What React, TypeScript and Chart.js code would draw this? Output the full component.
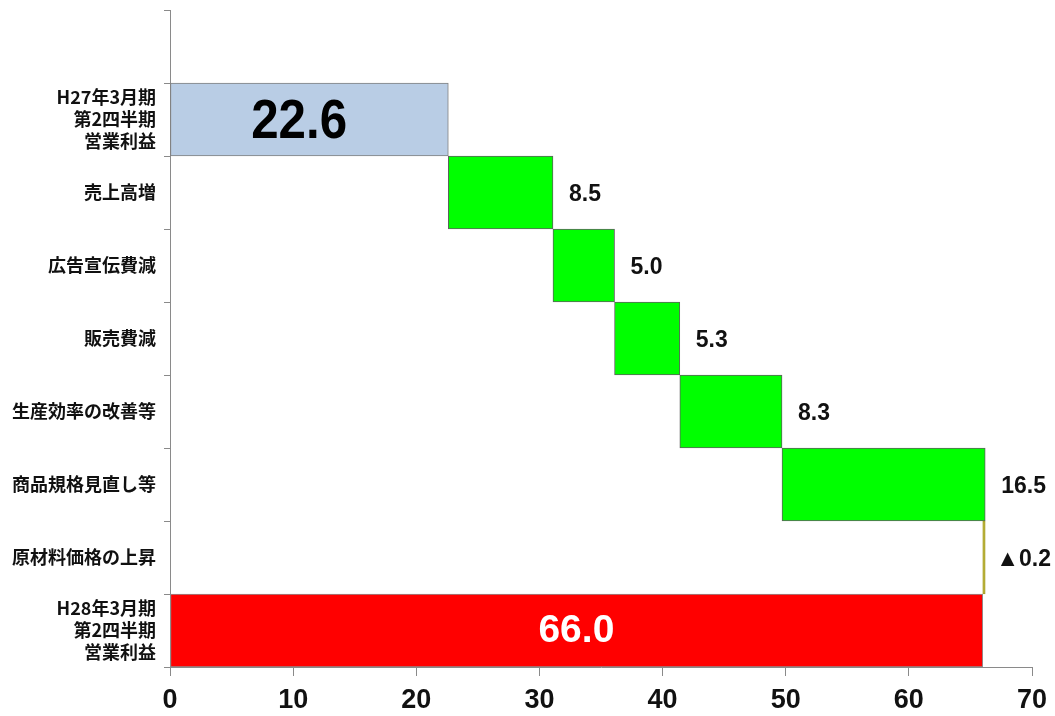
import { useEffect, useRef } from 'react';
import { Chart, registerables } from 'chart.js';

Chart.register(...registerables);

// ---- data ----
const categories: string[][] = [
  [''],
  ['H27年3月期', '第2四半期', '営業利益'],
  ['売上高増'],
  ['広告宣伝費減'],
  ['販売費減'],
  ['生産効率の改善等'],
  ['商品規格見直し等'],
  ['原材料価格の上昇'],
  ['H28年3月期', '第2四半期', '営業利益'],
];
const startTotal = 22.6;
const changes = [8.5, 5.0, 5.3, 8.3, 16.5, -0.2];
const endTotal = 66.0;
const xMin = 0;
const xMax = 70;
const xStep = 10;

// ---- derived ----
const ranges: ([number, number] | null)[] = [null, [0, startTotal]];
let run = startTotal;
for (const c of changes) {
  ranges.push([run, run + c]);
  run = +(run + c).toFixed(1);
}
ranges.push([0, endTotal]);

const values: (number | null)[] = [null, startTotal, ...changes, endTotal];
const valueText = values.map((v) =>
  v === null ? '' : v < 0 ? '▲' + Math.abs(v).toFixed(1) : v.toFixed(1)
);

const fills = ['rgba(0,0,0,0)', '#b9cde5', '#00ff00', '#00ff00', '#00ff00', '#00ff00', '#00ff00', '#b8b030', '#ff0000'];
const borders = ['rgba(0,0,0,0)', '#7f7f7f', '#5f5f5f', '#5f5f5f', '#5f5f5f', '#5f5f5f', '#5f5f5f', '#a8a028', '#8f8f8f'];

const labelPlugin = {
  id: 'valueLabels',
  afterDatasetsDraw(chart: any) {
    const ctx = chart.ctx;
    const xs = chart.scales.x;
    const ys = chart.scales.y;
    ctx.save();
    values.forEach((v, i) => {
      if (v === null) return;
      const r = ranges[i]!;
      const yc = ys.getPixelForValue(i);
      if (i === 1) {
        const xc = (xs.getPixelForValue(r[0]) + xs.getPixelForValue(r[1])) / 2 - 10;
        ctx.save();
        ctx.translate(xc, yc + 3);
        ctx.scale(0.88, 1);
        ctx.font = 'bold 56px "Liberation Sans", Arial, sans-serif';
        ctx.fillStyle = '#000';
        ctx.textAlign = 'center';
        ctx.textBaseline = 'middle';
        ctx.fillText(valueText[i], 0, 0);
        ctx.restore();
      } else if (i === values.length - 1) {
        const xc = (xs.getPixelForValue(r[0]) + xs.getPixelForValue(r[1])) / 2;
        ctx.font = 'bold 39px "Liberation Sans", Arial, sans-serif';
        ctx.fillStyle = '#fff';
        ctx.textAlign = 'center';
        ctx.textBaseline = 'middle';
        ctx.fillText(valueText[i], xc, yc + 1);
      } else {
        const xe = xs.getPixelForValue(Math.max(r[0], r[1]));
        ctx.font = 'bold 23px "Liberation Sans", Arial, sans-serif';
        ctx.fillStyle = '#111';
        ctx.textAlign = 'left';
        ctx.textBaseline = 'middle';
        ctx.fillText(valueText[i], xe + (v < 0 ? 11 : 16), yc + 2);
      }
    });
    ctx.restore();
  },
};

export default function App() {
  const ref = useRef<HTMLCanvasElement | null>(null);
  useEffect(() => {
    document.body.style.margin = '0';
    const canvas = ref.current!;
    const chart = new Chart(canvas, {
      type: 'bar',
      data: {
        labels: categories,
        datasets: [
          {
            data: ranges as any,
            backgroundColor: fills,
            borderColor: borders,
            borderWidth: 1,
            borderSkipped: false,
            barPercentage: 1,
            categoryPercentage: 1,
          },
        ],
      },
      options: {
        indexAxis: 'y',
        responsive: false,
        animation: false,
        layout: { padding: { top: 10, right: 23, left: 0, bottom: 0 } },
        plugins: { legend: { display: false }, tooltip: { enabled: false } },
        scales: {
          x: {
            min: xMin,
            max: xMax,
            ticks: {
              stepSize: xStep,
              color: '#111',
              padding: 8,
              font: { family: '"Liberation Sans", Arial, sans-serif', size: 27, weight: 'bold' },
            },
            grid: { drawOnChartArea: false, tickLength: 9, color: '#8a8a8a' },
            border: { display: true, color: '#8a8a8a' },
            afterFit(scale: any) {
              scale.height = 49;
              scale.paddingLeft = 0;
              scale.paddingRight = 0;
            },
          },
          y: {
            offset: true,
            ticks: {
              color: '#111',
              padding: 8,
              font: { family: '"Noto Sans CJK JP", sans-serif', size: 18, weight: 'bold', lineHeight: 1.22 },
            },
            grid: { drawOnChartArea: false, tickLength: 6, color: '#8a8a8a', offset: true },
            border: { display: true, color: '#8a8a8a' },
            afterFit(scale: any) {
              scale.width = 170;
              scale.paddingTop = 0;
              scale.paddingBottom = 0;
            },
          },
        },
      },
      plugins: [labelPlugin],
    });
    return () => chart.destroy();
  }, []);
  return <canvas ref={ref} width={1055} height={716} style={{ display: 'block' }} />;
}
